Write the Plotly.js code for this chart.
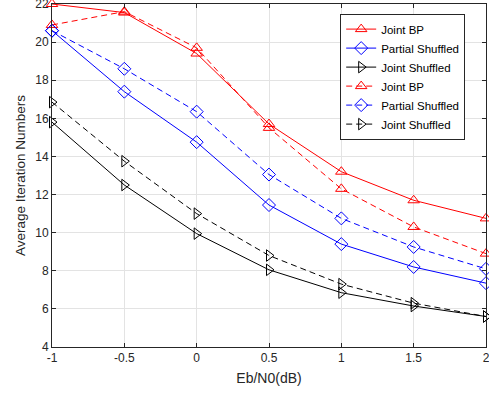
<!DOCTYPE html>
<html><head><meta charset="utf-8">
<script src="https://cdn.plot.ly/plotly-3.0.1.min.js"></script>
<style>html,body{margin:0;padding:0;background:#fff}#chart{width:489px;height:396px}</style>
</head><body><div id="chart"></div>
<script>
const ebn0 = [-1, -0.5, 0, 0.5, 1, 1.5, 2];
const jointBP_solid = [22.0, 21.55, 19.4, 15.7, 13.2, 11.7, 10.75];
const partial_solid = [20.6, 17.4, 14.75, 11.45, 9.4, 8.2, 7.35];
const jointSh_solid = [15.8, 12.5, 9.95, 8.05, 6.85, 6.15, 5.6];
const jointBP_dash = [20.9, 21.6, 19.7, 15.5, 12.3, 10.3, 8.9];
const partial_dash = [20.6, 18.6, 16.35, 13.05, 10.75, 9.25, 8.1];
const jointSh_dash = [16.85, 13.75, 11.0, 8.8, 7.3, 6.3, 5.6];
const names = ['Joint BP', 'Partial Shuffled', 'Joint Shuffled'];
const colors = ['#ff0000', '#0000ff', '#000000'];
const symbols = ['triangle-up-open', 'diamond-open', 'triangle-right-open'];
const xticks = [-1, -0.5, 0, 0.5, 1, 1.5, 2];
const xticklabels = ['-1', '-0.5', '0', '0.5', '1', '1.5', '2'];
const yticks = [4, 6, 8, 10, 12, 14, 16, 18, 20, 22];
const FONT = 'Liberation Sans, Arial, sans-serif';

function tr(y, i, dash) {
  return {x: ebn0, y: y, name: names[i], mode: 'lines+markers', type: 'scatter',
    line: {color: colors[i], width: 1, dash: dash},
    marker: {symbol: symbols[i], size: 10, color: colors[i], line: {width: 1, color: colors[i]}},
    cliponaxis: false};
}
const data = [
  tr(jointBP_solid, 0, 'solid'), tr(partial_solid, 1, 'solid'), tr(jointSh_solid, 2, 'solid'),
  tr(jointBP_dash, 0, '6px,4px'), tr(partial_dash, 1, '6px,4px'), tr(jointSh_dash, 2, '6px,4px')
];
const ax = {showgrid: true, gridcolor: '#e3e3e3', gridwidth: 1, zeroline: false,
  showline: true, linecolor: '#262626', linewidth: 1, mirror: 'ticks',
  ticks: 'inside', ticklen: 4, tickcolor: '#262626', ticklabeloverflow: 'allow',
  tickfont: {family: FONT, size: 12, color: '#262626'}};
const layout = {
  width: 489, height: 396,
  margin: {l: 52, r: 3, t: 4, b: 49},
  paper_bgcolor: '#fff', plot_bgcolor: '#fff',
  showlegend: true,
  legend: {x: 0.664, y: 0.972, xanchor: 'left', yanchor: 'top', bgcolor: '#fff',
    bordercolor: '#262626', borderwidth: 1,
    font: {family: FONT, size: 11.5, color: '#000'},
    tracegroupgap: 0, itemwidth: 30},
  xaxis: Object.assign({}, ax, {range: [-1, 2], tickvals: xticks, ticktext: xticklabels,
    title: {text: 'Eb/N0(dB)', standoff: 8, font: {family: FONT, size: 14, color: '#262626'}}}),
  yaxis: Object.assign({}, ax, {range: [4, 22], tickvals: yticks,
    title: {text: 'Average Iteration Numbers', standoff: 6, font: {family: FONT, size: 13.5, color: '#262626'}}})
};
Plotly.newPlot('chart', data, layout, {displayModeBar: false, staticPlot: true});
</script></body></html>
